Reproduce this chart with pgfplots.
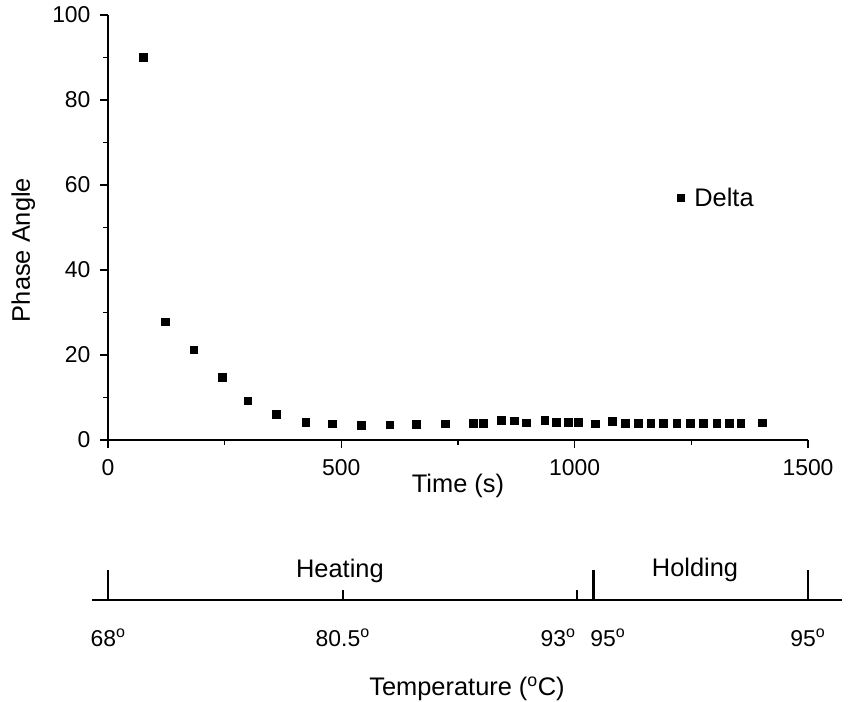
\documentclass[border=0pt]{standalone}
\usepackage{pgfplots}
\pgfplotsset{compat=1.18}
\usepackage{fontspec}
\setmainfont{Liberation Sans}

\newcommand{\dg}{\textsuperscript{o}}

\begin{document}
\begin{tikzpicture}
\useasboundingbox (0,0) rectangle (854bp,702bp);
% phase angle vs time
\begin{axis}[
  at={(108bp,262bp)}, anchor=south west,
  scale only axis, width=700bp, height=425bp,
  xmin=0, xmax=1500, ymin=0, ymax=100,
  axis lines*=left,
  axis line style={line width=1.6bp},
  tick align=outside,
  xtick={0,500,1000,1500}, minor xtick={250,750,1250},
  ytick={0,20,40,60,80,100}, minor ytick={10,30,50,70,90},
  major tick length=8bp, minor tick length=5bp,
  every tick/.style={black, line width=1.3bp},
  /pgf/number format/assume math mode=true,
  /pgf/number format/set thousands separator={},
  ticklabel style={font=\fontsize{23}{27}\selectfont},
  xticklabel style={yshift=-8bp},
  yticklabel style={xshift=-6bp},
  label style={font=\fontsize{25.5}{30}\selectfont},
  xlabel={Time (s)}, ylabel={Phase Angle},
  xlabel style={at={(axis description cs:0.5,0)}, anchor=center, yshift=-46bp},
  ylabel style={at={(axis description cs:-0.121,0.447)}, anchor=center},
  legend style={at={(axis cs:1212,57)}, anchor=west, draw=none, fill=none,
    font=\fontsize{25.5}{30}\selectfont},
  clip=false,
]
\addplot[only marks, mark=square*, mark size=3.8bp, black] coordinates {
  (75,90.0) (122,27.8) (184,21.2) (245,14.8) (299,9.2) (361,6.0)
  (424,4.2) (481,3.8) (542,3.5) (604,3.6) (660,3.7) (722,3.8)
  (783,3.9) (804,4.0) (843,4.6) (870,4.5) (896,4.1) (936,4.7)
  (961,4.2) (986,4.2) (1008,4.2) (1044,3.8) (1080,4.4) (1108,4.0)
  (1136,4.0) (1163,4.0) (1190,4.0) (1219,4.0) (1247,4.0) (1276,4.0)
  (1304,4.0) (1331,4.0) (1356,4.0) (1402,4.1)
};
\addlegendentry{\hspace*{8bp}Delta}
\end{axis}
% temperature scale
\begin{axis}[
  at={(92bp,102bp)}, anchor=south west,
  scale only axis, width=750bp, height=40bp,
  xmin=-34.3, xmax=1573, ymin=0, ymax=40,
  hide y axis,
  axis x line*=bottom,
  axis line style={line width=2.5bp, -},
  tick align=inside,
  xtick={0,1041,1500},
  xticklabels={68\dg, \hspace*{28bp}95\dg, 95\dg},
  extra x ticks={503,1005},
  extra x tick labels={80.5\dg, 93\dg\hspace*{38bp}},
  major tick length=30bp,
  every tick/.style={black, line width=2.8bp},
  extra x tick style={major tick length=10bp, tick style={line width=2bp}},
  ticklabel style={font=\fontsize{23}{27}\selectfont},
  xticklabel style={yshift=-25bp},
  label style={font=\fontsize{25.5}{30}\selectfont},
  xlabel={Temperature (\dg C)},
  xlabel style={at={(axis description cs:0.5,0)}, anchor=center, yshift=-89bp},
  clip=false,
]
\node[font=\fontsize{25.5}{30}\selectfont] at (axis cs:497,29) {Heating};
\node[font=\fontsize{25.5}{30}\selectfont] at (axis cs:1258,30) {Holding};
\end{axis}
\end{tikzpicture}
\end{document}
